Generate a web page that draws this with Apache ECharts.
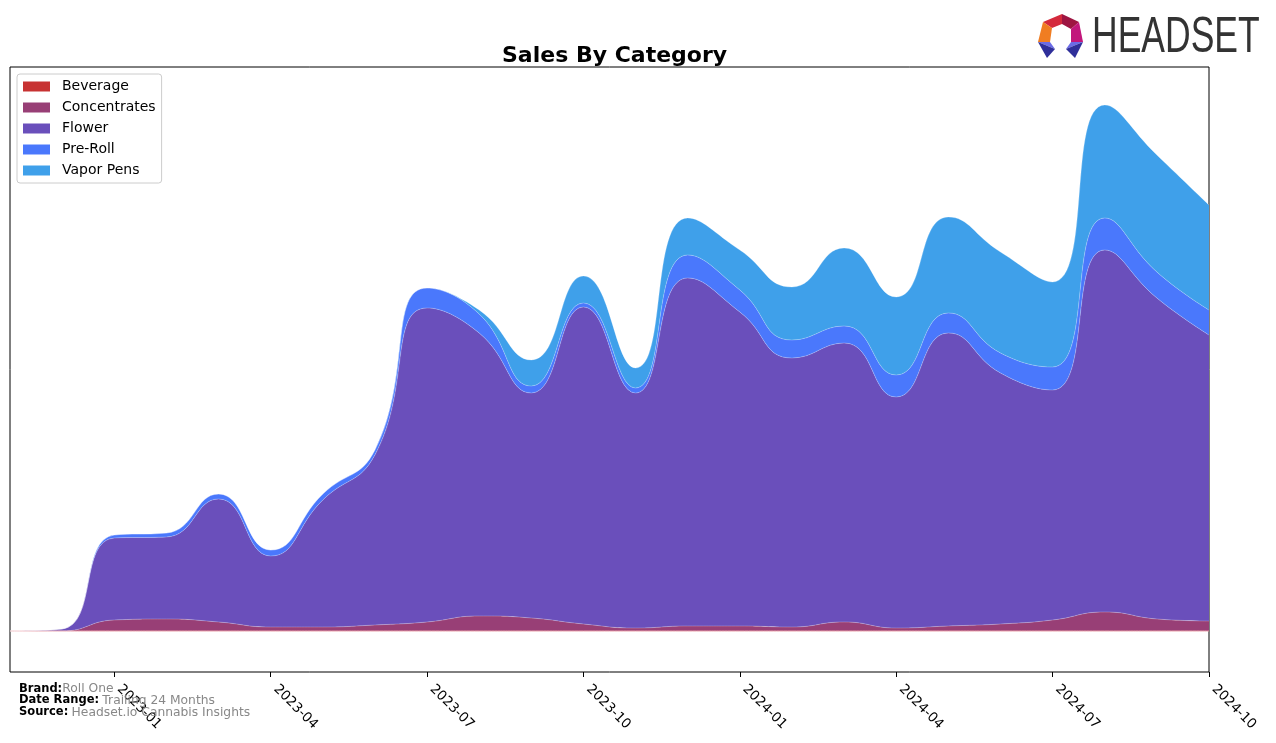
<!DOCTYPE html>
<html>
<head>
<meta charset="utf-8">
<script src="https://cdn.jsdelivr.net/npm/echarts@6/dist/echarts.min.js"></script>
<style>
html,body{margin:0;padding:0;background:#fff;}
#chart{width:1276px;height:743px;}
</style>
</head>
<body>
<div id="chart"></div>
<script>
// Months (category axis)
var months = ['2022-11','2022-12','2023-01','2023-02','2023-03','2023-04','2023-05','2023-06','2023-07','2023-08','2023-09','2023-10','2023-11','2023-12','2024-01','2024-02','2024-03','2024-04','2024-05','2024-06','2024-07','2024-08','2024-09','2024-10'];
// Tick labels shown on the x axis
var tickLabels = ['2023-01','2023-04','2023-07','2023-10','2024-01','2024-04','2024-07','2024-10'];
// Series values (relative sales units)
var beverage     = [0,0,0,0,0,0,0,0,0,0,0,0,0,0,0,0,0,0,0,0,0,0,0,0];
var concentrates = [0,0,11,12,9,4,4,6,9,15,13,7,3,5,5,4,9,3,5,7,11,19,12,10];
var flower       = [0,2,82,82,123,71,127,170,314,283,225,317,235,348,314,269,279,231,293,251,230,362,321,286];
var preRoll      = [0,0,3,4,5,6,6,5,20,19,7,4,5,23,22,18,17,22,20,20,23,32,26,25];
var vaporPens    = [0,0,0,0,0,0,0,0,0,4,26,27,20,37,40,53,78,78,96,101,85,113,117,105];

var seriesNames = ['Beverage','Concentrates','Flower','Pre-Roll','Vapor Pens'];
var seriesData = [beverage, concentrates, flower, preRoll, vaporPens];
var colors = ['#c73232','#983f76','#6a4fbb','#4a78fc','#3fa0ea'];

var chart = echarts.init(document.getElementById('chart'), null, {renderer:'canvas'});

var series = seriesNames.map(function(n,i){
  return {
    name: n,
    type: 'line',
    stack: 'total',
    smooth: 0.5,
    symbol: 'none',
    data: seriesData[i],
    itemStyle: {color: colors[i]},
    lineStyle: i === 0 ? {width: 1, color: '#e9a0a8'} : {width: 0.8, color: 'rgba(255,255,255,0.3)'},
    areaStyle: {color: colors[i], opacity: 1},
    emphasis: {disabled: true}
  };
});

function isTick(idx){
  return tickLabels.indexOf(months[idx]) >= 0;
}

var option = {
  animation: false,
  backgroundColor: '#fff',
  title: {
    text: 'Sales By Category',
    left: 497, top: 40,
    textStyle: {fontFamily: 'DejaVu Sans', fontSize: 22, fontWeight: 'bold', color: '#000'}
  },
  legend: {
    orient: 'vertical',
    left: 17, top: 74,
    padding: [5, 6, 5, 6],
    itemWidth: 27, itemHeight: 10, itemGap: 6,
    icon: 'rect',
    borderColor: '#cccccc', borderWidth: 1, borderRadius: 3,
    backgroundColor: '#fff',
    textStyle: {fontFamily: 'DejaVu Sans', fontSize: 14, color: '#000', lineHeight: 15, padding: [0,0,0,7]},
    data: seriesNames
  },
  grid: {
    left: 10, right: 67, top: 67, bottom: 71,
    show: true, borderColor: '#000', borderWidth: 1, backgroundColor: 'transparent'
  },
  xAxis: {
    type: 'category',
    data: months,
    boundaryGap: false,
    axisLine: {show: false, onZero: false},
    axisTick: {show: true, length: 5, lineStyle: {color: '#000'}, interval: function(idx){ return isTick(idx); }},
    axisLabel: {
      show: true, rotate: -45, margin: 10, padding: [0,0,0,7],
      interval: function(idx){ return isTick(idx); },
      fontFamily: 'DejaVu Sans', fontSize: 13.5, color: '#000'
    },
    splitLine: {show: false}
  },
  yAxis: {
    type: 'value',
    min: -41, max: 564,
    show: false,
    splitLine: {show: false}
  },
  series: series,
  graphic: [
    {type: 'text', left: 19, top: 683, style: {
      text: '{b|Brand:}{g|Roll One}\n{b|Date Range:} {g|Trailing 24 Months}\n{b|Source:} {g|Headset.io Cannabis Insights}',
      rich: {
        b: {fontFamily: 'DejaVu Sans', fontSize: 11.5, fontWeight: 'bold', fill: '#000', lineHeight: 11},
        g: {fontFamily: 'DejaVu Sans', fontSize: 12.3, fill: '#888', lineHeight: 11}
      }
    }, z: 100},
    // Logo icon
    {type: 'polygon', shape: {points: [[1043,22],[1062,14],[1062,24],[1052,28]]}, style: {fill: '#d42a3c'}},
    {type: 'polygon', shape: {points: [[1062,14],[1079,22],[1071,29],[1062,24]]}, style: {fill: '#9e1542'}},
    {type: 'polygon', shape: {points: [[1043,22],[1052,28],[1050,42],[1038,42]]}, style: {fill: '#f07d22'}},
    {type: 'polygon', shape: {points: [[1079,22],[1083,42],[1071,42],[1071,29]]}, style: {fill: '#c2177c'}},
    {type: 'polygon', shape: {points: [[1038,42],[1050,42],[1055,49]]}, style: {fill: '#6b6be6'}},
    {type: 'polygon', shape: {points: [[1038,42],[1055,49],[1047,58]]}, style: {fill: '#2f2f9a'}},
    {type: 'polygon', shape: {points: [[1071,42],[1083,42],[1066,49]]}, style: {fill: '#6b6be6'}},
    {type: 'polygon', shape: {points: [[1083,42],[1075,58],[1066,49]]}, style: {fill: '#2f2f9a'}},
    {type: 'text', x: 1092, y: 38, scaleX: 0.71, scaleY: 1, style: {
      text: 'HEADSET', x: 0, y: 0, verticalAlign: 'middle', align: 'left',
      font: '50px "Liberation Sans"', fill: '#333333'
    }}
  ]
};
chart.setOption(option);
</script>
</body>
</html>
